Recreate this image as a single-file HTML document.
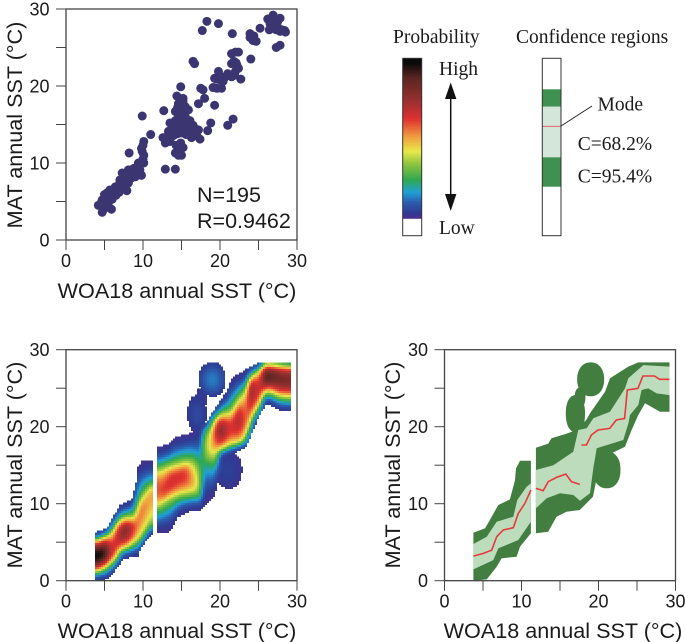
<!DOCTYPE html>
<html lang="en">
<head>
<meta charset="utf-8">
<title>MAT vs WOA18 annual SST</title>
<style>
html,body{margin:0;padding:0;background:#fff;width:685px;height:642px;overflow:hidden}
svg{display:block}
.sans{font-family:"Liberation Sans",sans-serif;fill:#1a1a1a}
.serif{font-family:"Liberation Serif",serif;fill:#1a1a1a;font-size:19.5px}
</style>
</head>
<body>
<svg id="chart" xmlns="http://www.w3.org/2000/svg" width="685" height="642" viewBox="0 0 685 642">
  <g id="layer-heat"></g>
  <g id="layer-green"></g>
  <g id="layer-scatter"></g>
  <g id="layer-axes"></g>

  <text class="sans" x="177" y="298" font-size="21.6" text-anchor="middle">WOA18 annual SST (°C)</text>
  <text class="sans" transform="translate(22,125) rotate(-90)" font-size="21.6" text-anchor="middle">MAT annual SST (°C)</text>
  <text class="sans" x="177" y="638" font-size="21.6" text-anchor="middle">WOA18 annual SST (°C)</text>
  <text class="sans" transform="translate(22,465) rotate(-90)" font-size="21.6" text-anchor="middle">MAT annual SST (°C)</text>
  <text class="sans" x="563" y="638" font-size="21.6" text-anchor="middle">WOA18 annual SST (°C)</text>
  <text class="sans" transform="translate(400,465) rotate(-90)" font-size="21.6" text-anchor="middle">MAT annual SST (°C)</text>

  <text class="sans" x="197" y="202" font-size="21.5">N=195</text>
  <text class="sans" x="197" y="228" font-size="21.5">R=0.9462</text>

  <g>
    <text class="serif" x="393" y="43">Probability</text>
    <g id="colorbar"></g>
    <rect x="402.7" y="58.3" width="19" height="177.4" fill="none" stroke="#333" stroke-width="1"/>
    <text class="serif" x="439" y="75">High</text>
    <text class="serif" x="439" y="234">Low</text>
    <line x1="450.7" y1="95" x2="450.7" y2="198" stroke="#111" stroke-width="1.5"/>
    <polygon points="450.7,82.5 445,99 456.4,99" fill="#111"/>
    <polygon points="450.7,211 445,194 456.4,194" fill="#111"/>
  </g>

  <g>
    <text class="serif" x="516" y="43">Confidence regions</text>
    <rect x="542.3" y="89.3" width="18.7" height="17.4" fill="#3f9152"/>
    <rect x="542.3" y="106.7" width="18.7" height="50.6" fill="#d4e6da"/>
    <rect x="542.3" y="157.3" width="18.7" height="29.4" fill="#3f9152"/>
    <line x1="542.3" y1="126.3" x2="561" y2="126.3" stroke="#e8505a" stroke-width="0.8"/>
    <rect x="542.3" y="58.3" width="18.7" height="177.4" fill="none" stroke="#333" stroke-width="1"/>
    <line x1="561" y1="126" x2="592" y2="106" stroke="#222" stroke-width="1"/>
    <text class="serif" x="597.5" y="110.7">Mode</text>
    <text class="serif" x="577.7" y="150">C=68.2%</text>
    <text class="serif" x="577.7" y="182.7">C=95.4%</text>
  </g>
</svg>
<script>
// ---------- axis data ----------
const axisTicks = [0, 5, 10, 15, 20, 25, 30];
const axisTickLabels = ['0', '', '10', '', '20', '', '30'];

// ---------- scatter: WOA18 SST and MAT SST (°C) ----------
const scatterX = [26.9,26.2,27.8,26.9,27.3,26.4,27.3,28.4,27.8,27.8,27.3,25.2,23.9,24.4,24.7,21.6,19.8,18.3,17.7,24.0,22.4,21.5,16.5,16.7,21.5,22.1,22.4,22.0,22.7,21.5,20.6,19.8,19.3,20.0,19.1,20.2,17.5,14.9,14.4,15.2,18.0,17.2,19.3,12.7,9.9,14.6,15.5,14.2,15.0,15.9,14.6,15.5,15.0,13.5,14.4,15.7,16.5,13.9,14.8,15.9,16.7,17.2,13.3,13.7,16.3,17.4,12.6,12.9,13.5,14.6,15.2,14.2,15.0,12.9,14.2,18.8,18.4,21.7,21.0,11.0,10.1,9.8,10.1,8.2,10.1,9.4,8.8,8.1,7.3,8.3,9.8,9.0,7.7,7.0,8.1,7.9,6.8,5.7,5.3,6.4,5.1,6.0,4.7,4.2,4.9,4.7,5.9,5.5,7.0,15.3,14.9,14.2,15.5,16.1,14.0,14.7,15.3,16.2,13.5,14.5,15.1,15.6,14.0,16.8,17.0,13.0,13.3,14.9,14.3,14.8,14.6,14.9,14.5,15.2,15.2,19.5,20.4,21.0,21.9,22.2,21.8,22.0,20.0,19.6,17.8,26.7,27.5,26.5,27.0,27.5,28.0,28.5,24.3,24.0,23.9,9.2,8.5,7.8,8.8,7.4,7.5,7.7,6.4,6.1,5.5,5.0,4.6,4.9,9.6,9.9,10.0,8.4,7.2,6.9,6.5,5.7,10.0];
const scatterY = [29.2,28.7,28.8,28.4,28.6,27.3,27.3,27.2,27.1,25.3,25.0,27.5,26.8,26.5,25.8,26.8,28.1,28.4,27.2,23.5,24.4,24.2,23.2,22.9,22.9,23.0,22.3,21.9,20.9,21.2,21.1,21.9,21.0,20.8,19.8,19.7,19.7,19.9,18.7,18.4,18.4,17.7,17.5,16.8,16.1,17.7,17.3,16.7,16.7,16.9,16.0,16.0,15.4,15.2,14.9,14.9,14.9,14.3,14.3,14.3,14.5,14.3,14.1,13.4,13.3,13.1,13.3,12.6,12.8,12.1,12.0,11.3,11.0,9.2,9.2,15.2,14.2,15.7,14.9,13.7,12.8,11.9,11.0,11.3,10.0,10.0,9.3,9.1,8.7,8.4,8.4,8.2,8.0,7.4,7.4,6.4,6.7,6.5,6.1,6.3,5.4,5.3,5.2,4.5,4.5,3.6,4.0,4.8,7.8,15.8,15.9,15.5,15.2,15.5,14.8,14.7,14.6,14.3,13.9,13.8,13.9,13.7,13.6,13.8,13.5,13.2,12.9,12.6,12.3,11.5,11.0,17.0,17.2,17.5,18.0,20.9,20.6,21.6,21.4,22.7,23.2,24.4,21.3,19.7,19.5,28.8,28.4,28.1,27.5,27.6,27.3,27.0,25.9,26.5,26.3,9.4,8.8,8.7,8.6,7.7,7.2,6.9,6.9,6.1,5.6,5.9,4.9,4.0,9.1,11.5,12.3,8.0,7.0,6.2,5.8,5.2,10.5];

// ---------- low-temperature band [SST, MAT] ----------
const lowTop95 = [[3.75,6.23],[5.27,6.8],[6.13,8.31],[6.99,9.83],[8.5,10.56],[9.15,13.07],[9.28,14.59],[9.8,15.58],[11.22,15.58]];
const lowTop68 = [[3.75,4.76],[5.48,5.71],[6.78,7.66],[8.93,8.31],[9.45,10.48],[10.66,12.2],[11.22,12.64]];
const lowMode = [[3.75,3.2],[5.05,3.55],[6.13,3.98],[6.78,5.71],[7.64,6.58],[8.93,6.88],[9.58,8.74],[10.44,10.04],[11.22,11.77]];
const lowBot68 = [[3.75,1.47],[6.34,2.68],[6.99,4.2],[9.58,5.28],[11.22,7.66]];
const lowBot95 = [[3.75,0],[5.48,0.17],[6.78,1.82],[7.42,2.9],[9.37,3.12],[9.8,4.42],[11.22,6.15]];

// ---------- high-temperature band [SST, MAT] ----------
const highTop95 = [[11.87,17.27],[13.48,17.8],[13.9,18.5],[15.87,19.1],[17.13,19.57],[18.43,20.9],[18.9,21.74],[20.84,24.55],[21.49,26.28],[23.87,27.8],[25.17,28.35],[29.22,28.35]];
const highTop68 = [[11.87,14.38],[14.13,15.0],[16.73,16.75],[17.38,19.57],[18.47,19.8],[19.32,21.09],[21.49,21.95],[23.44,24.98],[23.87,26.28],[25.82,28.0],[29.22,27.8]];
const highModeA = [[11.87,11.99],[12.82,11.69],[13.47,12.86],[14.54,13.42],[15.75,13.85],[16.49,12.86],[17.57,12.51]];
const highModeB = [[17.78,17.62],[18.43,17.62],[19.08,18.92],[19.94,19.57],[21.45,19.78],[22.31,20.87],[23.39,21.08],[23.74,24.76],[25.12,24.98],[25.77,26.58],[27.28,26.58],[27.92,26.15],[29.22,26.15]];
const highBot68 = [[11.87,9.4],[13.27,10.7],[15.0,11.35],[16.73,11.13],[17.6,10.39],[18.9,11.35],[19.32,14.6],[19.77,17.2],[23.22,18.27],[23.9,20.5],[24.09,21.52],[25.17,22.82],[25.6,24.77],[26.47,24.98],[27.56,24.33],[29.22,24.1]];
const highBot95 = [[11.87,6.15],[13.47,6.36],[14.54,8.31],[15.84,8.96],[17.57,9.18],[19.29,10.91],[19.72,13.07],[19.9,15.8],[21.7,16.55],[23.44,17.4],[24.3,19.57],[24.5,20.0],[25.17,21.52],[26.04,23.04],[27.99,21.95],[29.22,21.95]];

// density falls off faster than the 68% contour around the mode jump near 17–19 °C
const highHeatTop68 = [[11.87,14.38],[14.13,15.0],[16.73,15.9],[17.38,15.6],[17.7,19.57],[18.47,19.8],[19.32,21.09],[21.49,21.95],[23.44,24.98],[23.87,26.28],[25.82,28.0],[29.22,27.8]];
const highHeatBot68 = [[11.87,9.4],[13.27,10.7],[15.0,11.35],[16.73,11.13],[17.6,10.39],[17.8,14.8],[18.9,15.4],[19.32,16.0],[19.77,17.2],[23.22,18.27],[23.9,20.5],[24.09,21.52],[25.17,22.82],[25.6,24.77],[26.47,24.98],[27.56,24.33],[29.22,24.1]];

// ---------- peak probability along SST ----------
const peakSST = [3.75,5,6,7.7,9,11.2,11.87,13.5,15.5,17,17.6,18,19,20,21.3,22.5,23.3,24,25,26,27,29.2];
const peakProbability = [1,0.95,0.62,0.82,0.58,0.5,0.58,0.66,0.63,0.42,0.25,0.32,0.5,0.8,0.62,0.72,0.55,0.78,0.62,0.92,0.85,0.8];

// ---------- isolated lobes: SST centre, MAT centre, SST radius, MAT radius, peak probability ----------
const lobeSST = [18.98,17.6,17.0,21.06];
const lobeMAT = [26.15,23.8,21.7,14.4];
const lobeRadiusSST = [1.75,0.7,1.25,1.8];
const lobeRadiusMAT = [2.2,1.3,2.4,2.4];
const lobePeak = [0.12,0.02,0.05,0.03];

// ---------- colour scale ----------
const colorStops = [0,0.03,0.1,0.16,0.24,0.34,0.42,0.51,0.625,0.74,0.885,0.98,1];
const colorValues = ['#4a2f8e','#2f3a92','#2b5fb0','#1fa0d8','#2fa84f','#8fc43f','#e8e84a','#f0a040','#e03030','#9a3030','#5a2520','#0a0a0a','#0a0a0a'];

// ---------- scales and helpers ----------
const NS = 'http://www.w3.org/2000/svg';
const UNIT = 231 / 30;
const LOBE_POWER = 2.2;
const scatterPanel = { x0: 66, y0: 240 };
const heatPanel = { x0: 66, y0: 580.7 };
const greenPanel = { x0: 444.5, y0: 580.7 };
const sx = (p, v) => p.x0 + v * UNIT;
const sy = (p, v) => p.y0 - v * UNIT;

function mk(parent, tag, attrs) {
  const el = document.createElementNS(NS, tag);
  for (const k in attrs) el.setAttribute(k, attrs[k]);
  parent.appendChild(el);
  return el;
}
function lerp(pairs, x) {
  if (x <= pairs[0][0]) return pairs[0][1];
  for (let i = 1; i < pairs.length; i++) {
    if (x <= pairs[i][0]) {
      const a = pairs[i - 1], b = pairs[i];
      return a[1] + (b[1] - a[1]) * (x - a[0]) / (b[0] - a[0]);
    }
  }
  return pairs[pairs.length - 1][1];
}
function lerpArr(xs, ys, x) {
  return lerp(xs.map((v, i) => [v, ys[i]]), x);
}
function hexRGB(h) {
  return [1, 3, 5].map(i => parseInt(h.substr(i, 2), 16));
}
function colorAt(v) {
  v = Math.max(0, Math.min(1, v));
  let i = 1;
  while (i < colorStops.length - 1 && v > colorStops[i]) i++;
  const t = (v - colorStops[i - 1]) / (colorStops[i] - colorStops[i - 1]);
  const a = hexRGB(colorValues[i - 1]), b = hexRGB(colorValues[i]);
  return 'rgb(' + a.map((c, k) => Math.round(c + (b[k] - c) * t)).join(',') + ')';
}
function polyPath(p, top, bot) {
  const pts = top.concat(bot.slice().reverse());
  return 'M' + pts.map(q => sx(p, q[0]).toFixed(1) + ' ' + sy(p, q[1]).toFixed(1)).join('L') + 'Z';
}
function linePath(p, pts) {
  return 'M' + pts.map(q => sx(p, q[0]).toFixed(1) + ' ' + sy(p, q[1]).toFixed(1)).join('L');
}
function lobeRadius(i, x, y) {
  const rx = Math.abs(x - lobeSST[i]) / lobeRadiusSST[i], ry = Math.abs(y - lobeMAT[i]) / lobeRadiusMAT[i];
  return Math.pow(rx, LOBE_POWER) + Math.pow(ry, LOBE_POWER);
}

// ---------- axes ----------
const axesLayer = document.getElementById('layer-axes');
[scatterPanel, heatPanel, greenPanel].forEach(p => {
  const frame = mk(axesLayer, 'rect', { x: p.x0, y: sy(p, 30), width: 30 * UNIT, height: 30 * UNIT, fill: 'none', stroke: '#444', 'stroke-width': 1.3 });
  
  
  axisTicks.forEach((t, i) => {
    const tx = mk(axesLayer, 'line', { x1: sx(p, t), x2: sx(p, t), y1: p.y0, y2: p.y0 + 10, stroke: '#444', 'stroke-width': 1 });
    
    
    const ty = mk(axesLayer, 'line', { x1: p.x0 - 10, x2: p.x0, y1: sy(p, t), y2: sy(p, t), stroke: '#444', 'stroke-width': 1 });
    
    
    if (axisTickLabels[i]) {
      const lx = mk(axesLayer, 'text', { x: sx(p, t), y: p.y0 + 27, 'text-anchor': 'middle', 'font-size': 18, class: 'sans' });
      lx.textContent = axisTickLabels[i];
      
      
      const ly = mk(axesLayer, 'text', { x: p.x0 - 16.5, y: sy(p, t) + 6.5, 'text-anchor': 'end', 'font-size': 18, class: 'sans' });
      ly.textContent = axisTickLabels[i];
      
      
    }
  });
});

// ---------- scatter ----------
const scatterLayer = document.getElementById('layer-scatter');
scatterX.forEach((x, i) => {
  const c = mk(scatterLayer, 'circle', { cx: sx(scatterPanel, x), cy: sy(scatterPanel, scatterY[i]), r: 4.5, fill: '#3b3671' });
  
  
});

// ---------- density heatmap ----------
const lowBand = { xmin: 3.75, xmax: 11.22, top95: lowTop95, top68: lowTop68, mode: lowMode, bot68: lowBot68, bot95: lowBot95 };
const highBand = { xmin: 11.87, xmax: 29.22, top95: highTop95, top68: highHeatTop68, mode: highModeA.concat(highModeB), bot68: highHeatBot68, bot95: highBot95 };
function bandValue(b, x, y) {
  if (x < b.xmin || x > b.xmax) return -1;
  const t95 = lerp(b.top95, x), t68 = lerp(b.top68, x), m = lerp(b.mode, x), b68 = lerp(b.bot68, x), b95 = lerp(b.bot95, x);
  if (y > t95 || y < b95) return -1;
  let d;
  if (y >= m) {
    d = y <= t68 ? (y - m) / Math.max(t68 - m, 0.1) : 1 + (y - t68) / Math.max(t95 - t68, 0.1);
  } else {
    d = y >= b68 ? (m - y) / Math.max(m - b68, 0.1) : 1 + (b68 - y) / Math.max(b68 - b95, 0.1);
  }
  const peak = lerpArr(peakSST, peakProbability, x);
  const shape = d <= 1 ? 1 - 0.42 * d * d : 0.58 * Math.pow(Math.max(0, 2 - d), 1.6);
  return Math.max(0.01, peak * shape);
}
function lobeValue(x, y) {
  let best = -1;
  lobeSST.forEach((cx, i) => {
    const r2 = lobeRadius(i, x, y);
    if (r2 <= 1) best = Math.max(best, 0.01 + lobePeak[i] * (1 - r2));
  });
  return best;
}
const CELL = 2 / UNIT;
const heatCols = Math.ceil((29.3 - 3.75) / CELL);
const heatRows = Math.ceil(28.4 / CELL);
let heatGrid = [];
for (let c = 0; c < heatCols; c++) {
  const column = [];
  for (let r = 0; r < heatRows; r++) {
    const cellX = 3.75 + (c + 0.5) * CELL, cellY = (r + 0.5) * CELL;
    column.push(Math.max(bandValue(lowBand, cellX, cellY), bandValue(highBand, cellX, cellY), lobeValue(cellX, cellY)));
  }
  heatGrid.push(column);
}
// soften the rendering: neighbour averaging inside the occupied region only
for (let pass = 0; pass < 2; pass++) {
  heatGrid = heatGrid.map((column, c) => column.map((v, r) => {
    if (v < 0) return v;
    let sum = 0, n = 0;
    for (let dc = -1; dc <= 1; dc++) {
      for (let dr = -1; dr <= 1; dr++) {
        const other = heatGrid[c + dc] ? heatGrid[c + dc][r + dr] : undefined;
        if (other !== undefined && other >= 0) { sum += other; n++; }
      }
    }
    return sum / n;
  }));
}
const heatLayer = document.getElementById('layer-heat');
heatGrid.forEach((column, c) => column.forEach((v, r) => {
  if (v < 0) return;
  const cell = mk(heatLayer, 'rect', { x: sx(heatPanel, 3.75 + c * CELL).toFixed(1), y: sy(heatPanel, (r + 1) * CELL).toFixed(1), width: 2.2, height: 2.2, fill: colorAt(v), 'shape-rendering': 'crispEdges' });
  
  
}));

// ---------- confidence regions ----------
const greenLayer = document.getElementById('layer-green');
[[lowTop95, lowBot95, '#437e41', 'outer-band-low'], [highTop95, highBot95, '#437e41', 'outer-band-high']].forEach(b => {
  const path = mk(greenLayer, 'path', { d: polyPath(greenPanel, b[0], b[1]), fill: b[2] });
  
  
});
lobeSST.forEach((cx, i) => {
  const pts = [];
  const rx = lobeRadiusSST[i], ry = lobeRadiusMAT[i];
  for (let a = 0; a < 48; a++) {
    const th = a / 48 * 2 * Math.PI, c = Math.cos(th), s = Math.sin(th);
    const f = Math.pow(Math.pow(Math.abs(c), LOBE_POWER) + Math.pow(Math.abs(s), LOBE_POWER), -1 / LOBE_POWER);
    pts.push(sx(greenPanel, cx + rx * c * f).toFixed(1) + ' ' + sy(greenPanel, lobeMAT[i] + ry * s * f).toFixed(1));
  }
  const e = mk(greenLayer, 'path', { d: 'M' + pts.join('L') + 'Z', fill: '#437e41' });
  
  
});
[[lowTop68, lowBot68, 'inner-band-low'], [highTop68, highBot68, 'inner-band-high']].forEach(b => {
  const path = mk(greenLayer, 'path', { d: polyPath(greenPanel, b[0], b[1]), fill: '#bcdcbc' });
  
  
});
[[lowMode, 'mode-line-low'], [highModeA, 'mode-line-mid'], [highModeB, 'mode-line-high']].forEach(m => {
  const path = mk(greenLayer, 'path', { d: linePath(greenPanel, m[0]), fill: 'none', stroke: '#e8383c', 'stroke-width': 1.6 });
  
  
});

// ---------- colour bar ----------
const colorbar = document.getElementById('colorbar');
const barTop = 58.3, barBottom = 218.3;
for (let i = 0; i < 80; i++) {
  const seg = mk(colorbar, 'rect', { x: 402.7, y: barBottom - (i + 1) * (barBottom - barTop) / 80, width: 19, height: (barBottom - barTop) / 80 + 0.5, fill: colorAt(i / 79) });
  
  
}
</script>
</body>
</html>
